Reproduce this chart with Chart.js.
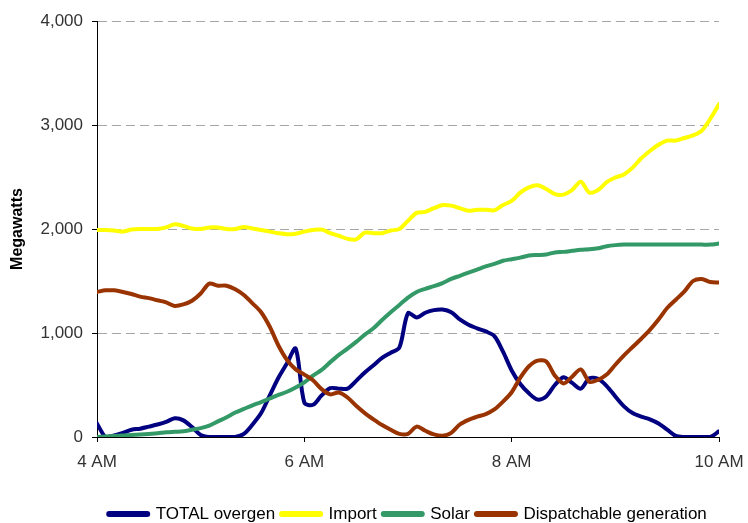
<!DOCTYPE html>
<html><head><meta charset="utf-8">
<script src="https://cdn.jsdelivr.net/npm/chart.js@4"></script>
<style>html,body{margin:0;padding:0;background:#fff;}#wrap{width:748px;height:523px;}</style>
</head><body><div id="wrap"><canvas id="c" width="748" height="523"></canvas></div>
<script>
// minutes after 4 AM, every 5 minutes
const minutes = [0,5,10,15,20,25,30,35,40,45,50,55,60,65,70,75,80,85,90,95,100,105,110,115,120,125,130,135,140,145,150,155,160,165,170,175,180,185,190,195,200,205,210,215,220,225,230,235,240,245,250,255,260,265,270,275,280,285,290,295,300,305,310,315,320,325,330,335,340,345,350,355,360];
const xTickLabels = ['4 AM','6 AM','8 AM','10 AM'];
const seriesNames = ['TOTAL overgen','Import','Solar','Dispatchable generation'];

const overgen = [130,0,15,40,70,80,100,120,145,180,160,95,20,0,0,0,0,30,120,230,400,570,710,850,330,310,400,470,465,465,540,620,690,760,810,860,1190,1150,1195,1220,1225,1200,1130,1080,1045,1015,970,820,640,510,420,360,390,500,575,520,465,565,560,490,390,295,230,195,170,130,70,10,0,0,0,0,55];
const importMW = [1990,1990,1985,1975,1995,2000,2000,2000,2015,2045,2030,2005,2000,2015,2015,2000,2000,2020,2005,1990,1975,1960,1950,1955,1975,1990,1995,1960,1935,1905,1900,1965,1960,1960,1985,2000,2080,2155,2165,2200,2230,2225,2200,2175,2185,2185,2180,2230,2270,2350,2400,2420,2385,2335,2330,2375,2455,2350,2375,2450,2495,2525,2590,2680,2750,2810,2850,2850,2875,2900,2945,3060,3200];
const solar = [0,5,10,15,20,25,30,35,45,50,55,70,85,110,150,190,235,270,305,335,370,405,435,475,525,590,645,720,790,850,915,985,1045,1125,1200,1270,1340,1395,1425,1450,1480,1520,1550,1580,1610,1640,1665,1695,1710,1725,1745,1750,1755,1775,1780,1790,1800,1805,1815,1835,1845,1850,1850,1850,1850,1850,1850,1850,1850,1850,1850,1850,1860];
const dispatchable = [1395,1410,1410,1395,1375,1350,1335,1315,1295,1260,1275,1310,1380,1475,1455,1455,1420,1365,1285,1200,1060,880,740,650,600,545,460,410,428,380,300,230,170,115,70,30,30,100,60,25,12,40,120,165,195,220,265,340,430,570,680,735,725,590,515,580,650,530,550,600,695,785,865,945,1030,1130,1240,1320,1400,1500,1520,1490,1485];

const colors = ['#000080','#FFFF00','#339966','#993300'];
const font = 'Liberation Sans, Arial, sans-serif';

new Chart(document.getElementById('c'), {
  type: 'line',
  data: {
    labels: minutes,
    datasets: [
      {label: seriesNames[0], data: overgen, borderColor: colors[0], backgroundColor: colors[0], order: 4},
      {label: seriesNames[1], data: importMW, borderColor: colors[1], backgroundColor: colors[1], order: 3},
      {label: seriesNames[2], data: solar, borderColor: colors[2], backgroundColor: colors[2], order: 2},
      {label: seriesNames[3], data: dispatchable, borderColor: colors[3], backgroundColor: colors[3], order: 1}
    ]
  },
  options: {
    responsive: false,
    animation: false,
    devicePixelRatio: 1,
    layout: {padding: {left: 0, top: 21, right: 29, bottom: -9.5}},
    elements: {
      point: {radius: 0, hoverRadius: 0},
      line: {tension: 0.3, borderWidth: 4, borderCapStyle: 'round', borderJoinStyle: 'round', fill: false}
    },
    scales: {
      x: {
        type: 'linear', min: 0, max: 360,
        ticks: {stepSize: 120, autoSkip: false, maxRotation: 0,
          callback: (v) => xTickLabels[Math.round(v / 120)],
          font: {family: font, size: 17}, color: '#333', padding: 10},
        grid: {drawOnChartArea: false, tickLength: 5, tickColor: '#000'},
        border: {color: '#000', width: 1},
        afterFit(s) { s.height = 61.5; s.paddingRight = 20; s.paddingLeft = 0; }
      },
      y: {
        min: 0, max: 4000,
        ticks: {stepSize: 1000, callback: (v) => v.toLocaleString('en-US'),
          font: {family: font, size: 17}, color: '#333', padding: 9},
        grid: {color: (c) => c.tick && c.tick.value === 0 ? 'rgba(0,0,0,0)' : '#a6a6a6',
          tickColor: '#000', tickLength: 5, lineWidth: 1},
        border: {color: '#000', width: 1, dash: [9, 5]},
        title: {display: true, text: 'Megawatts', color: '#000',
          font: {family: font, size: 16, weight: 'bold'}, padding: {top: 8, bottom: 0}},
        afterFit(s) { s.width = 97; }
      }
    },
    plugins: {
      tooltip: {enabled: false},
      legend: {
        position: 'bottom', fullSize: false, align: 'center',
        labels: {
          font: {family: font, size: 17}, color: '#000',
          usePointStyle: true, pointStyle: 'line', pointStyleWidth: 38, padding: 7,
          generateLabels(chart) {
            const items = Chart.defaults.plugins.legend.labels.generateLabels(chart);
            items.forEach(i => { i.lineWidth = 6; i.lineCap = 'round'; });
            return items.sort((a, b) => a.datasetIndex - b.datasetIndex);
          }
        }
      }
    }
  }
});
</script></body></html>
